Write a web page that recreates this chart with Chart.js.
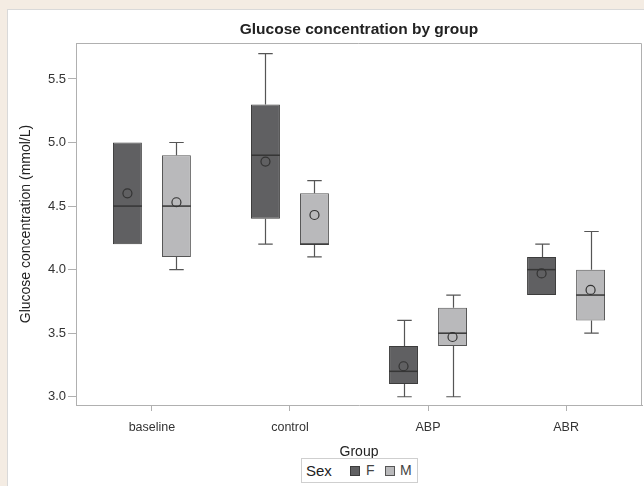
<!DOCTYPE html>
<html>
<head>
<meta charset="utf-8">
<script src="https://cdn.jsdelivr.net/npm/chart.js@4/dist/chart.umd.min.js"></script>
<style>
  html, body { margin: 0; padding: 0; background: #f4ece3; width: 644px; height: 486px; overflow: hidden; font-family: "Liberation Sans", Arial, sans-serif; }
  #panel { position: absolute; left: 7px; top: 9px; right: 0; bottom: 0; background: #ffffff; border-left: 1px solid #d9d9d9; border-top: 1px solid #d9d9d9; }
  #c { position: absolute; left: 0; top: 0; }
  #legend { position: absolute; left: 301px; top: 458px; width: 115px; height: 23px; border: 1px solid #cfcfcf; background: #fff;
            font-size: 14px; color: #333; line-height: 23px; }
  #legend span { position: absolute; top: 0; }
  #legend i { position: absolute; top: 7px; width: 8px; height: 8px; border: 1px solid #3c3c3c; }
</style>
</head>
<body>
<div id="panel"></div>
<canvas id="c" width="644" height="486"></canvas>
<div id="legend">
  <span style="left:4px; color:#222; font-size:15px;">Sex</span>
  <i style="left:48px; background:#606062;"></i>
  <span style="left:64px; color:#444;">F</span>
  <i style="left:83px; background:#b9b9bb; border-color:#555;"></i>
  <span style="left:98px; color:#444;">M</span>
</div>
<script>
const categories = ['baseline', 'control', 'ABP', 'ABR'];
const yTicks = [3.0, 3.5, 4.0, 4.5, 5.0, 5.5];

const fMin    = [4.2, 4.2, 3.0, 3.8];
const fQ1     = [4.2, 4.4, 3.1, 3.8];
const fMedian = [4.5, 4.9, 3.2, 4.0];
const fQ3     = [5.0, 5.3, 3.4, 4.1];
const fMax    = [5.0, 5.7, 3.6, 4.2];
const fMean   = [4.60, 4.85, 3.24, 3.97];

const mMin    = [4.0, 4.1, 3.0, 3.5];
const mQ1     = [4.1, 4.2, 3.4, 3.6];
const mMedian = [4.5, 4.2, 3.5, 3.8];
const mQ3     = [4.9, 4.6, 3.7, 4.0];
const mMax    = [5.0, 4.7, 3.8, 4.3];
const mMean   = [4.53, 4.43, 3.47, 3.84];

const stats = [
  { min: fMin, q1: fQ1, med: fMedian, q3: fQ3, max: fMax, mean: fMean },
  { min: mMin, q1: mQ1, med: mMedian, q3: mQ3, max: mMax, mean: mMean }
];

const boxes = (q1, q3) => categories.map((c, i) => ({ x: i + 1, y: [q1[i], q3[i]] }));

const FONT = '"Liberation Sans", Arial, sans-serif';

const boxPlugin = {
  id: 'boxExtras',
  afterDatasetsDraw(chart) {
    const ctx = chart.ctx;
    const y = chart.scales.y;
    ctx.save();
    stats.forEach((s, d) => {
      const meta = chart.getDatasetMeta(d);
      meta.data.forEach((bar, i) => {
        const x = Math.round(bar.x) + 0.5;
        const w = bar.width;
        const cap = w / 4;
        ctx.strokeStyle = '#555';
        ctx.lineWidth = 1.2;
        ctx.beginPath();
        if (s.max[i] > s.q3[i]) {
          const yt = y.getPixelForValue(s.max[i]);
          ctx.moveTo(x, y.getPixelForValue(s.q3[i])); ctx.lineTo(x, yt);
          ctx.moveTo(x - cap, yt); ctx.lineTo(x + cap, yt);
        }
        if (s.min[i] < s.q1[i]) {
          const yb = y.getPixelForValue(s.min[i]);
          ctx.moveTo(x, y.getPixelForValue(s.q1[i])); ctx.lineTo(x, yb);
          ctx.moveTo(x - cap, yb); ctx.lineTo(x + cap, yb);
        }
        ctx.stroke();
        // median
        ctx.strokeStyle = '#363636';
        ctx.lineWidth = 1.5;
        const ym = y.getPixelForValue(s.med[i]);
        ctx.beginPath();
        ctx.moveTo(bar.x - w / 2, ym); ctx.lineTo(bar.x + w / 2, ym);
        ctx.stroke();
        // mean
        ctx.strokeStyle = '#333';
        ctx.lineWidth = 1.2;
        ctx.beginPath();
        ctx.arc(bar.x, y.getPixelForValue(s.mean[i]), 4.5, 0, Math.PI * 2);
        ctx.stroke();
      });
    });
    // frame top/right
    const a = chart.chartArea;
    ctx.strokeStyle = '#b0b0b0';
    ctx.lineWidth = 1;
    ctx.beginPath();
    ctx.moveTo(a.left, Math.round(a.top) + 0.5);
    ctx.lineTo(Math.round(a.right) - 0.5, Math.round(a.top) + 0.5);
    ctx.lineTo(Math.round(a.right) - 0.5, a.bottom);
    ctx.stroke();
    // title
    ctx.fillStyle = '#222';
    ctx.font = 'bold 15.5px ' + FONT;
    ctx.textAlign = 'center';
    ctx.textBaseline = 'middle';
    ctx.fillText('Glucose concentration by group', (a.left + a.right) / 2, 30);
    ctx.restore();
  }
};

new Chart(document.getElementById('c'), {
  type: 'bar',
  data: {
    datasets: [
      { label: 'F', data: boxes(fQ1, fQ3), backgroundColor: '#606062', borderColor: '#3c3c3c', borderWidth: 1, borderSkipped: false },
      { label: 'M', data: boxes(mQ1, mQ3), backgroundColor: '#b9b9bb', borderColor: '#555555', borderWidth: 1, borderSkipped: false }
    ]
  },
  options: {
    responsive: false,
    animation: false,
    devicePixelRatio: 1,
    categoryPercentage: 0.71,
    barPercentage: 0.59,
    layout: { padding: { top: 43, right: 2, left: 0, bottom: 24 } },
    plugins: { legend: { display: false }, tooltip: { enabled: false }, title: { display: false } },
    scales: {
      x: {
        type: 'linear',
        min: 0.45,
        max: 4.55,
        offset: false,
        afterBuildTicks: (scale) => { scale.ticks = categories.map((c, i) => ({ value: i + 1 })); },
        afterFit: (scale) => { scale.height = 57; },
        ticks: {
          callback: (v) => categories[Math.round(v) - 1],
          font: { family: FONT, size: 12.5 },
          color: '#333',
          padding: 9,
          autoSkip: false,
          maxRotation: 0
        },
        grid: { offset: false, drawOnChartArea: false, drawTicks: true, tickLength: 6, color: '#b0b0b0' },
        border: { display: true, color: '#b0b0b0' },
        title: { display: true, text: 'Group', font: { family: FONT, size: 14 }, color: '#222', padding: { top: 0, bottom: 1 } }
      },
      y: {
        min: 2.935,
        max: 5.783,
        afterBuildTicks: (scale) => { scale.ticks = yTicks.map(v => ({ value: v })); },
        afterFit: (scale) => { scale.width = 76; },
        ticks: {
          callback: (v) => Number(v).toFixed(1),
          font: { family: FONT, size: 13 },
          color: '#333',
          padding: 2
        },
        grid: { drawOnChartArea: false, drawTicks: true, tickLength: 8, color: '#b0b0b0' },
        border: { display: true, color: '#b0b0b0' },
        title: { display: true, text: 'Glucose concentration (mmol/L)', font: { family: FONT, size: 14 }, color: '#222', padding: { top: 18, bottom: 0 } }
      }
    }
  },
  plugins: [boxPlugin]
});
</script>
</body>
</html>
